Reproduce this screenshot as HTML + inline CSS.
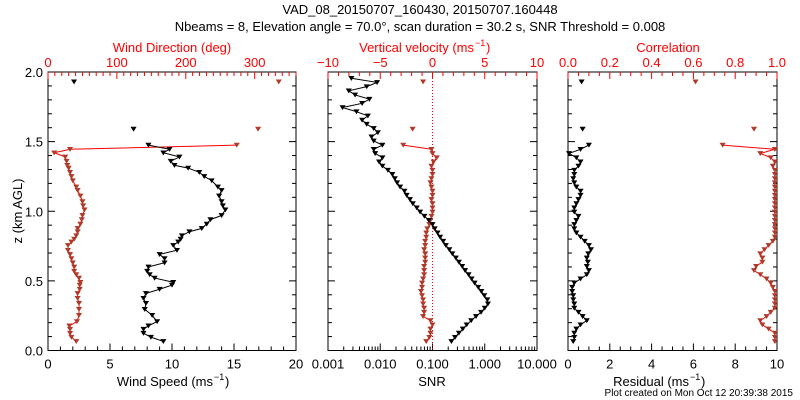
<!DOCTYPE html>
<html><head><meta charset="utf-8"><style>
body{margin:0;background:#fff}
svg{display:block;font-family:"Liberation Sans",sans-serif}
</style></head><body>
<svg id="c" width="800" height="400" viewBox="0 0 800 400">
<text x="420" y="14" font-size="13" text-anchor="middle">VAD_08_20150707_160430, 20150707.160448</text>
<text x="420" y="31" font-size="13" text-anchor="middle">Nbeams = 8, Elevation angle = 70.0°, scan duration = 30.2 s, SNR Threshold = 0.008</text>
<text x="793" y="396" font-size="10" text-anchor="end">Plot created on Mon Oct 12 20:39:38 2015</text>
</svg>
<script>
// Wind panel data
const windHeights=[.065,.096,.124,.153,.177,.208,.253,.296,.339,.375,.41,.44,.47,.49,.52,.545,.57,.60,.63,.66,.69,.72,.755,.78,.80,.825,.853,.877,.908,.94,.97,1.01,1.04,1.07,1.11,1.15,1.175,1.22,1.25,1.28,1.31,1.33,1.36,1.39,1.42,1.445,1.475];
const windSpeed=[9.3,8.3,7.7,7.7,8.1,8.8,8.4,7.8,7.9,7.7,7.9,9.0,10.0,10.1,8.6,8.2,8.0,8.1,9.4,9.4,9.0,10.4,10.1,10.5,10.7,10.8,11.4,12.4,12.8,13.1,14.0,14.3,14.1,14.0,13.8,14.0,13.7,13.2,12.6,12.2,11.3,10.2,9.9,10.6,9.3,9.8,8.1];
const windDir=[41,34,32,32,31,42,45,45,45,43,43,46,46,47,45,41,38,38,36,34,32,29,29,34,38,41,43,43,47,49,50,53,51,50,47,43,41,36,34,32,30,28,27,25,9,32,274];
const windExtraHeights=[1.59,1.93];
const windExtraSpeed=[6.9,2.1];
const windExtraDir=[305,335];
// SNR data
const snrHeights=[.065,.095,.125,.155,.185,.215,.245,.275,.305,.335,.365,.395,.425,.455,.485,.515,.545,.575,.605,.635,.665,.695,.725,.755,.785,.815,.845,.875,.905,.935,.965,.995,1.025,1.055,1.085,1.115,1.145,1.175,1.205,1.235,1.265,1.295,1.325,1.355,1.385,1.415,1.445,1.475,1.505,1.535,1.565,1.595,1.625,1.655,1.685,1.715,1.745,1.775,1.805,1.835,1.865,1.895,1.925,1.955];
const snrValues=[.23,.27,.32,.38,.45,.55,.68,.85,1.0,1.15,1.12,.98,.86,.75,.64,.56,.49,.42,.37,.32,.28,.24,.21,.18,.16,.14,.125,.11,.1,.085,.07,.058,.05,.042,.037,.032,.029,.024,.021,.019,.017,.014,.011,.0095,.011,.008,.0075,.011,.0075,.0068,.009,.0075,.0055,.0045,.0058,.0035,.0019,.0045,.0062,.0033,.0025,.0055,.0087,.0028];
// Grid for vertical velocity, residual, correlation
const gridHeights=[.065,.095,.125,.155,.185,.215,.245,.275,.305,.335,.365,.395,.425,.455,.485,.515,.545,.575,.605,.635,.665,.695,.725,.755,.785,.815,.845,.875,.905,.935,.965,.995,1.025,1.055,1.085,1.115,1.145,1.175,1.205,1.235,1.265,1.295,1.325,1.355,1.385,1.415,1.445,1.475];
const vertVel=[-0.6,-0.3,-0.2,-0.2,0,-0.2,-0.9,-0.8,-0.8,-0.9,-0.9,-1.0,-1.1,-1.0,-1.0,-0.9,-0.8,-0.8,-0.8,-0.7,-0.7,-0.7,-0.8,-0.7,-0.7,-0.6,-0.6,-0.5,-0.3,-0.2,-0.1,0,0,0,-0.1,0,0,-0.1,-0.2,-0.1,0,0,-0.1,0.1,0.4,0,-0.1,-2.8];
const residual=[0.25,0.3,0.3,0.4,0.6,0.9,0.7,0.5,0.3,0.3,0.25,0.25,0.2,0.2,0.3,0.6,0.9,1.0,0.9,0.95,0.9,0.97,1.1,1.0,0.8,0.6,0.4,0.3,0.3,0.4,0.5,0.3,0.3,0.4,0.5,0.6,0.6,0.4,0.3,0.25,0.3,0.3,0.5,0.6,0.4,0.05,0.6,1.0];
const correlation=[0.99,0.99,0.99,0.96,0.93,0.92,0.95,0.97,0.99,0.99,0.99,0.99,0.99,0.98,0.97,0.95,0.92,0.89,0.9,0.93,0.93,0.92,0.94,0.96,0.98,0.99,0.99,0.99,0.99,0.99,0.99,0.99,0.99,0.99,0.99,0.99,0.99,0.99,0.99,0.99,0.99,0.99,0.98,0.99,0.97,0.92,0.99,0.74];
const vvExtraHeights=[1.59,1.93];
const vvExtra=[-1.9,-0.9];
const resExtra=[0.7,0.65];
const corrExtra=[0.89,0.61];

const NS="http://www.w3.org/2000/svg";
const svg=document.getElementById('c');
const RED="#ff0000", MRK="#b03a2a";
const Y0=350.5,Y1=72;
const yS=z=>Y0-(z/2)*(Y0-Y1);
function el(t,a,parent){const e=document.createElementNS(NS,t);for(const k in a)e.setAttribute(k,a[k]);(parent||svg).appendChild(e);return e;}
function txt(x,y,s,size,fill,anchor,name){const t=el('text',{x:x,y:y,'font-size':size,fill:fill,'text-anchor':anchor});t.textContent=s;


return t;}
function line(x1,y1,x2,y2,c,w,name){const l=el('line',{x1:x1,y1:y1,x2:x2,y2:y2,stroke:c,'stroke-width':w||1});


return l;}
function poly(xs,ys,c,name){const p=el('polyline',{points:xs.map((x,i)=>x+','+ys[i]).join(' '),fill:'none',stroke:c,'stroke-width':1});

}
function mark(x,y,c,name){const p=el('path',{d:`M${x-2.5},${y-2}L${x+2.5},${y-2}L${x},${y+2}Z`,fill:c,stroke:c,'stroke-width':0.6});

}

function frame(x0,x1,name){const r=el('rect',{x:x0,y:Y1,width:x1-x0,height:Y0-Y1,fill:'none',stroke:'#000','stroke-width':1});


for(let z=0;z<=2.0001;z+=0.1){const y=yS(z);const L=(Math.round(z*10)%5===0)?7:4;
line(x0,y,x0+L,y,'#000',1,'y-tick');line(x1,y,x1-L,y,'#000',1,'y-tick');}}
function xticks(x0,x1,min,max,major,minor,c,top,labels,fmt,lblName){
const xs=v=>x0+(v-min)/(max-min)*(x1-x0);
for(let v=min;v<=max+1e-9;v+=minor){const x=xs(v);const isM=Math.abs(v/major-Math.round(v/major))<1e-6;const L=isM?7:4;
if(top)line(x,Y1,x,Y1+L,c,1,'top-tick');else line(x,Y0,x,Y0-L,c,1,'bottom-tick');}
if(labels)for(let v=min;v<=max+1e-9;v+=major){const x=xs(v);txt(x,top?Y1-5:Y0+18,fmt(v),13,c,'middle',lblName);}
return xs;}

// Panel 1
const P1=[48,296];
frame(P1[0],P1[1],'wind-panel-frame');
const xWS=xticks(P1[0],P1[1],0,20,5,1,'#000',false,true,v=>String(Math.round(v)),'wind-speed-tick-label');
const xWD=xticks(P1[0],P1[1],0,360,100,10,RED,true,false);
[0,100,200,300].forEach(v=>txt(xWD(v),Y1-5,String(v),13,RED,'middle','wind-dir-tick-label'));
txt(172,52,'Wind Direction (deg)',13,RED,'middle','wind-direction-axis-title');
txt(213,386,'Wind Speed (ms',13,'#000','end','wind-speed-axis-title');
txt(214,380,'−1',9,'#000','start','superscript');txt(225,386,')',13,'#000','start','paren');
for(let i=0;i<=4;i++){txt(43,yS(i*0.5)+5,(i*0.5).toFixed(1),13,'#000','end','y-tick-label');}
const yt=txt(0,0,'z (km AGL)',13,'#000','middle','y-axis-title');yt.setAttribute('transform','translate(22,211) rotate(-90)');
poly(windHeights.map((z,i)=>xWD(windDir[i])),windHeights.map(yS),RED,'wind-direction-line');
poly(windHeights.map((z,i)=>xWS(windSpeed[i])),windHeights.map(yS),'#000','wind-speed-line');
windHeights.forEach((z,i)=>{mark(xWD(windDir[i]),yS(z),MRK,'wind-direction-point');mark(xWS(windSpeed[i]),yS(z),'#000','wind-speed-point');});
windExtraHeights.forEach((z,i)=>{mark(xWD(windExtraDir[i]),yS(z),MRK,'wind-direction-point');mark(xWS(windExtraSpeed[i]),yS(z),'#000','wind-speed-point');});

// Panel 2
const P2=[328,537];
frame(P2[0],P2[1],'snr-panel-frame');
const xLog=v=>P2[0]+(Math.log10(v)+3)/4*(P2[1]-P2[0]);
for(let d=-3;d<1;d++)for(let m=1;m<=9;m++){const x=xLog(m*Math.pow(10,d));const L=m===1?7:4;line(x,Y0,x,Y0-L,'#000',1,'snr-tick');}
['0.001','0.010','0.100','1.000','10.000'].forEach((s,i)=>txt(xLog(Math.pow(10,i-3)),Y0+18,s,13,'#000','middle','snr-tick-label'));
txt(432,386,'SNR',13,'#000','middle','snr-axis-title');
const xVV=xticks(P2[0],P2[1],-10,10,5,1,RED,true,false);
[-10,-5,0,5,10].forEach(v=>txt(xVV(v),Y1-5,v<0?'−'+(-v):String(v),13,RED,'middle','vv-tick-label'));
txt(474,52,'Vertical velocity (ms',13,RED,'end','vv-axis-title');
txt(475,46,'−1',9,RED,'start','superscript');txt(486,52,')',13,RED,'start','paren');
const zl=el('line',{x1:xVV(0),y1:Y1,x2:xVV(0),y2:Y0,stroke:RED,'stroke-dasharray':'1,2'});


poly(gridHeights.map((z,i)=>xVV(vertVel[i])),gridHeights.map(yS),RED,'vertical-velocity-line');
poly(snrHeights.map((z,i)=>xLog(snrValues[i])),snrHeights.map(yS),'#000','snr-line');
gridHeights.forEach((z,i)=>mark(xVV(vertVel[i]),yS(z),MRK,'vertical-velocity-point'));
vvExtraHeights.forEach((z,i)=>mark(xVV(vvExtra[i]),yS(z),MRK,'vertical-velocity-point'));
snrHeights.forEach((z,i)=>mark(xLog(snrValues[i]),yS(z),'#000','snr-point'));

// Panel 3
const P3=[568,777];
frame(P3[0],P3[1],'residual-panel-frame');
const xR=xticks(P3[0],P3[1],0,10,2,0.5,'#000',false,true,v=>String(Math.round(v)),'residual-tick-label');
const xC=xticks(P3[0],P3[1],0,1,0.2,0.05,RED,true,true,v=>v.toFixed(1),'correlation-tick-label');
txt(668,52,'Correlation',13,RED,'middle','correlation-axis-title');
txt(689,386,'Residual (ms',13,'#000','end','residual-axis-title');
txt(690,380,'−1',9,'#000','start','superscript');txt(701,386,')',13,'#000','start','paren');
poly(gridHeights.map((z,i)=>xC(correlation[i])),gridHeights.map(yS),RED,'correlation-line');
poly(gridHeights.map((z,i)=>xR(residual[i])),gridHeights.map(yS),'#000','residual-line');
gridHeights.forEach((z,i)=>{mark(xC(correlation[i]),yS(z),MRK,'correlation-point');mark(xR(residual[i]),yS(z),'#000','residual-point');});
vvExtraHeights.forEach((z,i)=>{mark(xC(corrExtra[i]),yS(z),MRK,'correlation-point');mark(xR(resExtra[i]),yS(z),'#000','residual-point');});
</script>
</body></html>
